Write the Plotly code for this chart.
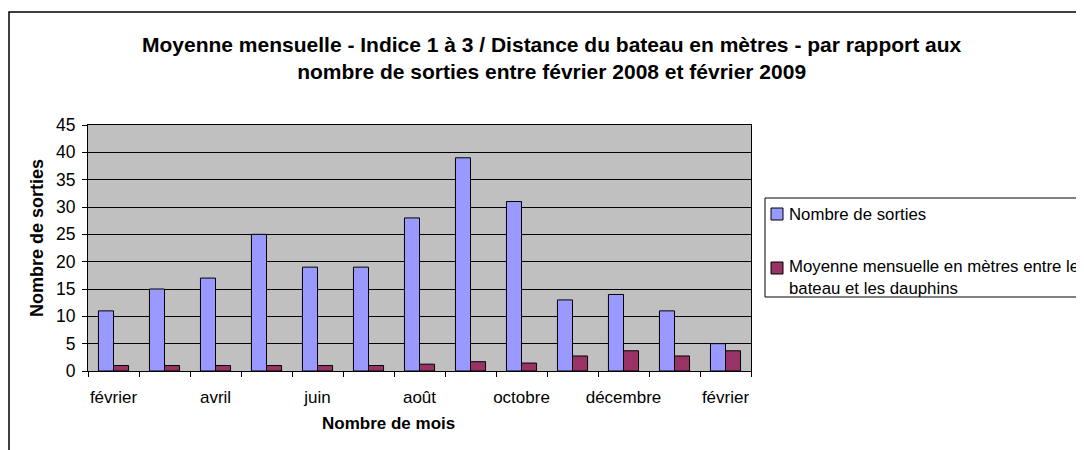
import plotly.graph_objects as go

months = ["février", "mars", "avril", "mai", "juin", "juillet", "août",
          "septembre", "octobre", "novembre", "décembre", "janvier", "février"]
sorties = [11, 15, 17, 25, 19, 19, 28, 39, 31, 13, 14, 11, 5]
moyenne = [1.0, 1.0, 1.0, 1.0, 1.0, 1.0, 1.25, 1.7, 1.45, 2.75, 3.7, 2.75, 3.7]
y_ticks = [0, 5, 10, 15, 20, 25, 30, 35, 40, 45]
series_names = ["Nombre de sorties",
                "Moyenne mensuelle en mètres entre les<br>bateau et les dauphins"]
series_colors = ["#9999FF", "#993366"]

idx = list(range(len(months)))
FONT = "Liberation Sans, Arial, sans-serif"

# page has an 8px body margin: figure drawn from page (8, 8)
OFF = 8
W, H = 1084 - OFF, 450 - OFF
PL, PR, PT, PB = 88, 751, 125, 371          # plot area in page pixels


def px2x(p):
    return (p - PL) / (PR - PL)


def py2y(p):
    return (PB - p) / (PB - PT)


fig = go.Figure()
for name, vals, col in zip(series_names, [sorties, moyenne], series_colors):
    fig.add_trace(go.Bar(
        x=idx, y=vals, name=name, showlegend=False,
        marker=dict(color=col, line=dict(color="#000000", width=1)),
    ))

shapes = [
    # outer chart border
    dict(type="rect", xref="paper", yref="paper",
         x0=px2x(9), x1=px2x(1100), y0=py2y(470), y1=py2y(12),
         line=dict(color="black", width=1.5), fillcolor="rgba(0,0,0,0)", layer="below"),
    # legend box
    dict(type="rect", xref="paper", yref="paper",
         x0=px2x(765), x1=px2x(1100), y0=py2y(297), y1=py2y(198),
         line=dict(color="black", width=1), fillcolor="white"),
]
annotations = [
    dict(text="<b>Moyenne mensuelle - Indice 1 à 3 / Distance du bateau en mètres - par rapport aux<br>"
              "nombre de sorties entre février 2008 et février 2009</b>",
         xref="paper", yref="paper", x=px2x(552), y=py2y(58),
         xanchor="center", yanchor="middle", showarrow=False,
         font=dict(size=21, family=FONT, color="black")),
    dict(text="<b>Nombre de mois</b>", xref="paper", yref="paper",
         x=px2x(388), y=py2y(423), xanchor="center", yanchor="middle",
         showarrow=False, font=dict(size=17, family=FONT, color="black")),
    dict(text="<b>Nombre de sorties</b>", xref="paper", yref="paper",
         x=px2x(37), y=py2y(238), xanchor="center", yanchor="middle",
         textangle=-90, showarrow=False, font=dict(size=18, family=FONT, color="black")),
]
# legend entries
leg_rows = [(214, 214), (268, 277)]  # (symbol centre y, text centre y) in page px
for (sy, ty), name, col in zip(leg_rows, series_names, series_colors):
    shapes.append(dict(type="rect", xref="paper", yref="paper",
                       x0=px2x(771), x1=px2x(783), y0=py2y(sy + 6), y1=py2y(sy - 6),
                       line=dict(color="black", width=1), fillcolor=col))
    annotations.append(dict(text=name, xref="paper", yref="paper",
                            x=px2x(787), y=py2y(ty), xanchor="left", yanchor="middle",
                            align="left", showarrow=False,
                            font=dict(size=16.8, family=FONT, color="black")))

fig.update_layout(
    width=W, height=H,
    margin=dict(l=PL - OFF, r=W - (PR - OFF), t=PT - OFF, b=H - (PB - OFF), autoexpand=False),
    paper_bgcolor="white",
    plot_bgcolor="#C0C0C0",
    barmode="group",
    bargap=0.41,
    bargroupgap=0,
    showlegend=False,
    font=dict(family=FONT, size=17, color="black"),
    xaxis=dict(
        range=[-0.5, len(months) - 0.5],
        tickmode="array",
        tickvals=idx[::2],
        ticktext=months[::2],
        ticks="",
        ticklabelstandoff=11,
        showgrid=False,
        zeroline=False,
        showline=True, linecolor="black", linewidth=1, mirror=True,
        minor=dict(tickmode="array", tickvals=[i - 0.5 for i in idx] + [len(months) - 0.5],
                   ticks="outside", ticklen=5, tickcolor="black", showgrid=False),
        tickfont=dict(size=17, family=FONT),
    ),
    yaxis=dict(
        range=[0, 45],
        tickmode="array",
        tickvals=y_ticks,
        ticks="outside", ticklen=5, tickcolor="black",
        ticklabelstandoff=3,
        showgrid=True, gridcolor="black", gridwidth=1,
        zeroline=False,
        showline=True, linecolor="black", linewidth=1, mirror=True,
        tickfont=dict(size=17.5, family=FONT),
    ),
    shapes=shapes,
    annotations=annotations,
)

fig.write_html("out.html")
